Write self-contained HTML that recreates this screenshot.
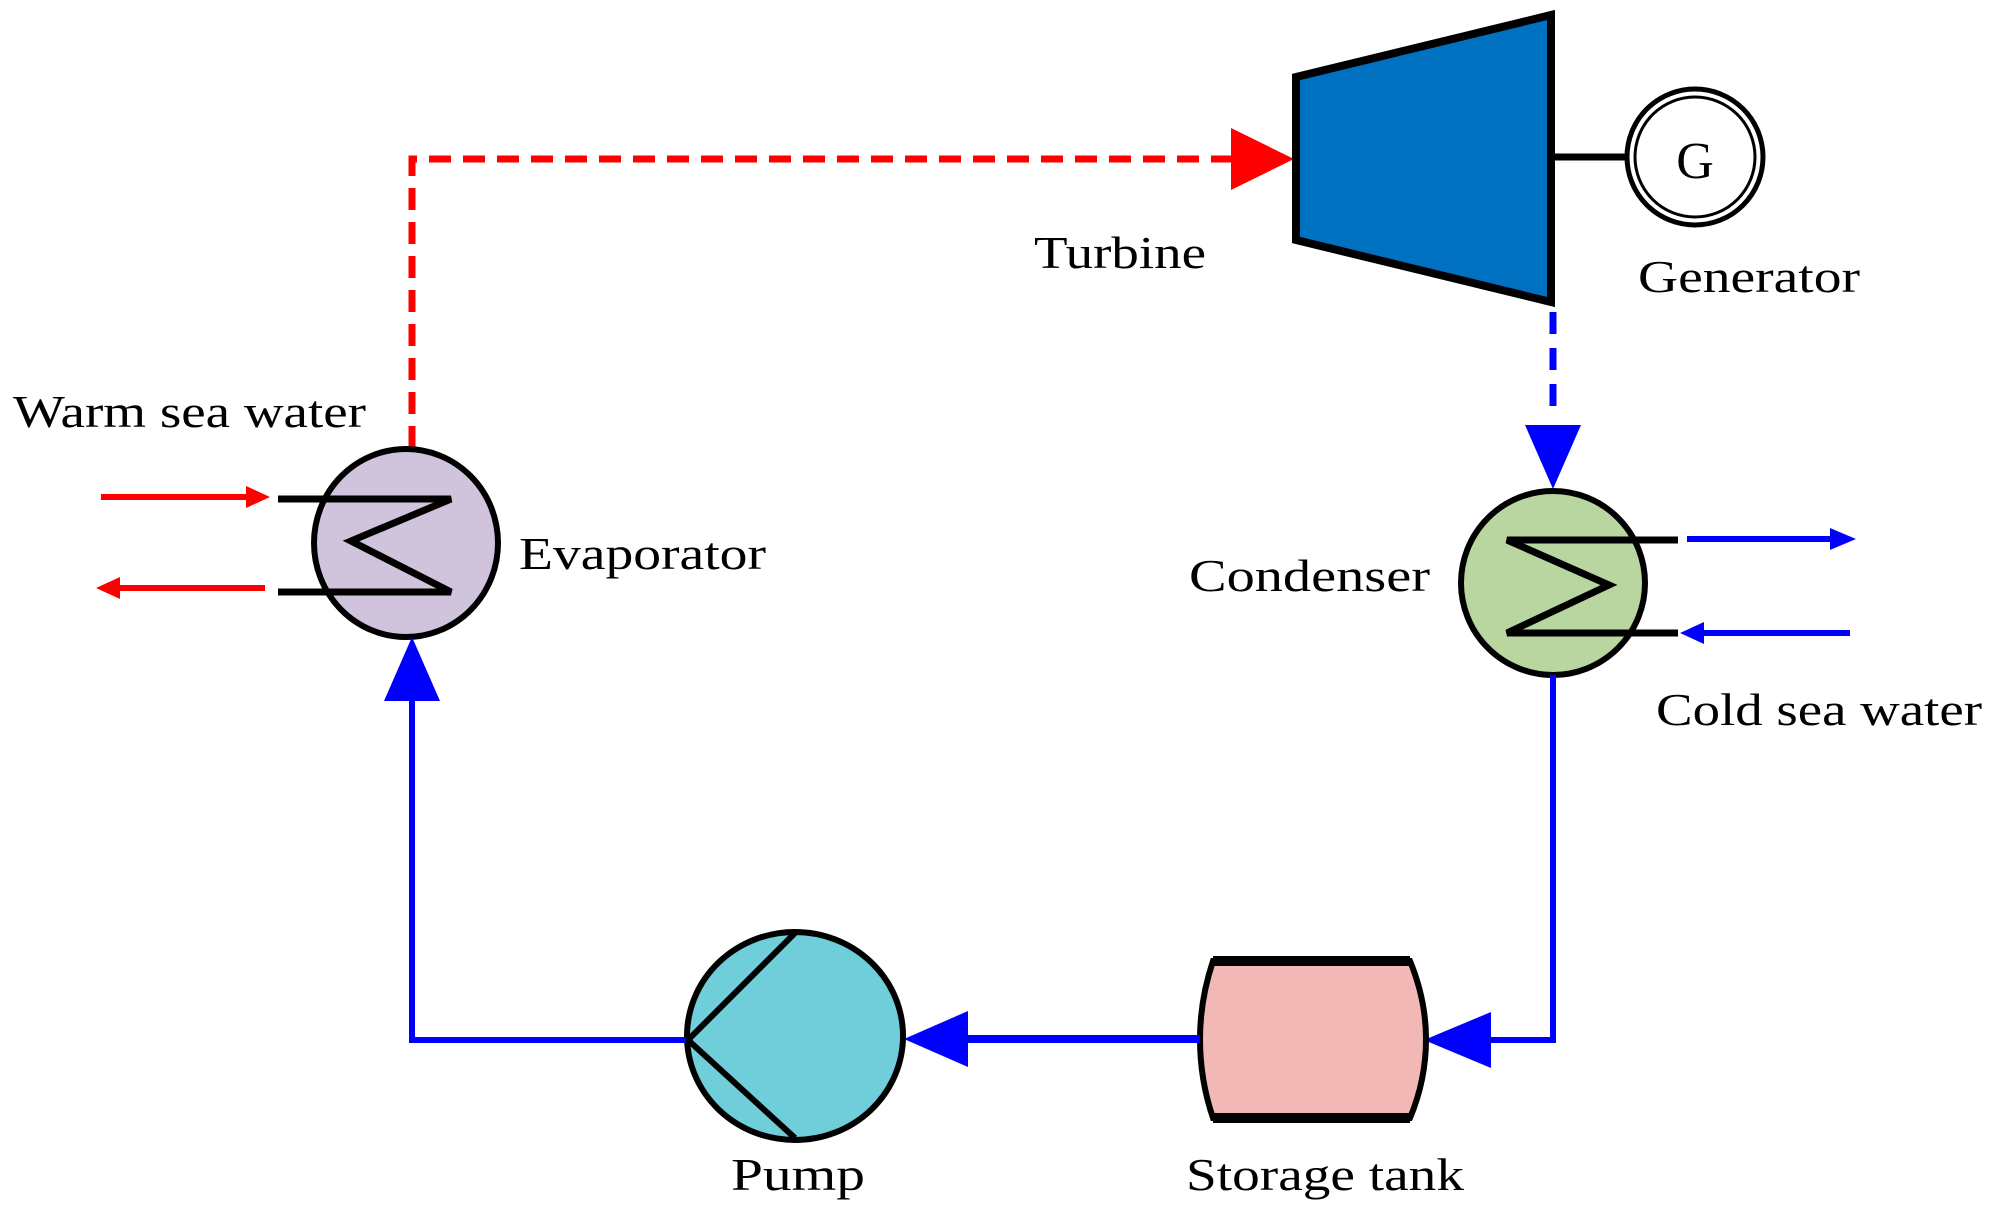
<!DOCTYPE html>
<html><head><meta charset="utf-8"><style>html,body{margin:0;padding:0;background:#fff}svg{display:block}text{font-family:"Liberation Serif",serif;font-size:46px;fill:#000}</style></head>
<body>
<svg width="1998" height="1213" viewBox="0 0 1998 1213" xmlns="http://www.w3.org/2000/svg">
<!-- red dashed to turbine -->
<path d="M412,448 V159 H1235" fill="none" stroke="#ff0000" stroke-width="7" stroke-dasharray="22,12"/>
<polygon points="1231,128 1294,159 1231,190" fill="#ff0000"/>
<!-- turbine -->
<polygon points="1296,77 1551,15 1551,302 1296,240" fill="#0070c0" stroke="#000" stroke-width="8" stroke-linejoin="miter"/>
<line x1="1551" y1="157" x2="1626" y2="157" stroke="#000" stroke-width="7"/>
<circle cx="1695" cy="157" r="68" fill="#fff" stroke="#000" stroke-width="5"/>
<circle cx="1695" cy="157" r="60" fill="none" stroke="#000" stroke-width="3"/>
<text x="1695" y="178" text-anchor="middle" style="font-size:52px">G</text>
<!-- blue dashed down -->
<line x1="1553" y1="312" x2="1553" y2="420" stroke="#0000ff" stroke-width="7" stroke-dasharray="22,14"/>
<polygon points="1525,425 1581,425 1553,489" fill="#0000ff"/>
<!-- condenser -->
<ellipse cx="1553" cy="583" rx="92" ry="92" fill="#b9d6a0" stroke="#000" stroke-width="6"/>
<polyline points="1678,540 1507,540 1609,585 1507,633 1678,633" fill="none" stroke="#000" stroke-width="7"/>
<line x1="1687" y1="539" x2="1830" y2="539" stroke="#0000ff" stroke-width="6"/>
<polygon points="1830,528 1856,539 1830,550" fill="#0000ff"/>
<line x1="1850" y1="633" x2="1702" y2="633" stroke="#0000ff" stroke-width="6"/>
<polygon points="1704,622 1680,633 1704,644" fill="#0000ff"/>
<!-- evaporator -->
<ellipse cx="406" cy="543" rx="92" ry="94" fill="#d0c4dc" stroke="#000" stroke-width="6"/>
<polyline points="278,499 451,499 351,541 451,592 278,592" fill="none" stroke="#000" stroke-width="7"/>
<line x1="101" y1="497" x2="248" y2="497" stroke="#ff0000" stroke-width="6"/>
<polygon points="246,486 270,497 246,508" fill="#ff0000"/>
<line x1="265" y1="588" x2="118" y2="588" stroke="#ff0000" stroke-width="6"/>
<polygon points="120,577 96,588 120,599" fill="#ff0000"/>
<!-- condenser to tank -->
<polyline points="1553,675 1553,1040 1480,1040" fill="none" stroke="#0000ff" stroke-width="6"/>
<polygon points="1491,1012 1424,1040 1491,1068" fill="#0000ff"/>
<!-- tank -->
<path d="M1213,961 H1410 Q1426,1000 1426,1039 Q1426,1080 1410,1118 H1213 Q1200,1080 1200,1039 Q1200,1000 1213,961 Z" fill="#f2b8b5" stroke="#000" stroke-width="6"/>
<line x1="1213" y1="961" x2="1410" y2="961" stroke="#000" stroke-width="10"/>
<line x1="1213" y1="1118" x2="1410" y2="1118" stroke="#000" stroke-width="10"/>
<!-- tank to pump -->
<line x1="1200" y1="1039" x2="960" y2="1039" stroke="#0000ff" stroke-width="8"/>
<polygon points="968,1011 904,1039 968,1067" fill="#0000ff"/>
<!-- pump -->
<ellipse cx="795" cy="1036" rx="108" ry="104" fill="#70cdda" stroke="#000" stroke-width="6"/>
<polyline points="795,933 688,1040 795,1138" fill="none" stroke="#000" stroke-width="6"/>
<!-- pump to evaporator -->
<polyline points="686,1040 412,1040 412,695" fill="none" stroke="#0000ff" stroke-width="6"/>
<polygon points="384,701 440,701 412,637" fill="#0000ff"/>
<!-- labels -->
<text x="13" y="427" textLength="353" lengthAdjust="spacingAndGlyphs">Warm sea water</text>
<text x="519" y="569" textLength="247" lengthAdjust="spacingAndGlyphs">Evaporator</text>
<text x="1034" y="268" textLength="172" lengthAdjust="spacingAndGlyphs">Turbine</text>
<text x="1638" y="292" textLength="222" lengthAdjust="spacingAndGlyphs">Generator</text>
<text x="1189" y="591" textLength="241" lengthAdjust="spacingAndGlyphs">Condenser</text>
<text x="1656" y="725" textLength="326" lengthAdjust="spacingAndGlyphs">Cold sea water</text>
<text x="731" y="1190" textLength="134" lengthAdjust="spacingAndGlyphs">Pump</text>
<text x="1186" y="1190" textLength="278" lengthAdjust="spacingAndGlyphs">Storage tank</text>
</svg>
</body></html>
